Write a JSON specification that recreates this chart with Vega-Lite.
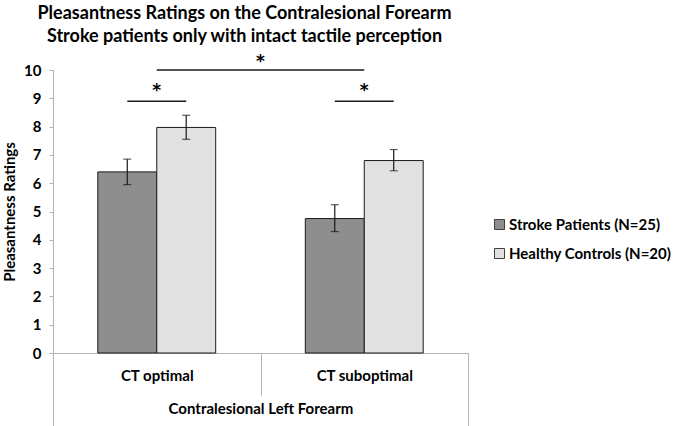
{
  "$schema": "https://vega.github.io/schema/vega-lite/v6.json",
  "width": 415,
  "height": 283,
  "autosize": {"type": "none"},
  "padding": {"left": 53, "top": 70, "right": 208, "bottom": 73},
  "background": "white",
  "config": {
    "view": {"stroke": null},
    "font": "Lato",
    "axis": {
      "labelFont": "Lato", "labelFontSize": 15, "labelFontWeight": "bold", "labelColor": "#000", "labelLimit": 0,
      "titleFont": "Lato", "titleFontSize": 15, "titleFontWeight": "bold", "titleColor": "#000",
      "domainColor": "#b3b3b3", "tickColor": "#b3b3b3", "grid": false
    },
    "axisY": {"values": [0, 1, 2, 3, 4, 5, 6, 7, 8, 9, 10], "tickSize": 4, "labelPadding": 8, "titlePadding": 6, "labelOverlap": false}
  },
  "title": {
    "text": ["Pleasantness Ratings on the Contralesional Forearm", "Stroke patients only with intact tactile perception"],
    "font": "Lato", "fontSize": 18, "fontWeight": "bold", "color": "#000",
    "anchor": "middle", "frame": "group", "dx": -16, "offset": 7, "lineHeight": 23
  },
  "datasets": {
    "bars": [
      {"condition": "CT optimal", "group": "Stroke Patients (N=25)", "mean": 6.4, "lo": 5.95, "hi": 6.85},
      {"condition": "CT optimal", "group": "Healthy Controls (N=20)", "mean": 7.97, "lo": 7.55, "hi": 8.4},
      {"condition": "CT suboptimal", "group": "Stroke Patients (N=25)", "mean": 4.75, "lo": 4.29, "hi": 5.24},
      {"condition": "CT suboptimal", "group": "Healthy Controls (N=20)", "mean": 6.8, "lo": 6.44, "hi": 7.19}
    ],
    "brackets": [
      {"id": "a", "condition": "CT optimal", "group": "Stroke Patients (N=25)", "y": 8.9},
      {"id": "a", "condition": "CT optimal", "group": "Healthy Controls (N=20)", "y": 8.9},
      {"id": "b", "condition": "CT suboptimal", "group": "Stroke Patients (N=25)", "y": 8.9},
      {"id": "b", "condition": "CT suboptimal", "group": "Healthy Controls (N=20)", "y": 8.9}
    ],
    "topline": [
      {"condition": "CT optimal", "y": 10},
      {"condition": "CT suboptimal", "y": 10}
    ],
    "stars": [
      {"condition": "CT optimal", "y": 9.25, "label": "*"},
      {"condition": "CT suboptimal", "y": 9.25, "label": "*"}
    ],
    "topstar": [
      {"region": "Contralesional Left Forearm", "y": 10.3, "label": "*"}
    ]
  },
  "layer": [
    {
      "encoding": {
        "x": {
          "field": "condition", "type": "nominal", "sort": ["CT optimal", "CT suboptimal"],
          "scale": {"paddingInner": 0, "paddingOuter": 0},
          "axis": {"title": null, "labelAngle": 0, "tickBand": "extent", "tickSize": 42, "labelPadding": -20, "labelBaseline": "middle"}
        }
      },
      "layer": [
        {
          "data": {"name": "bars"},
          "mark": {"type": "bar", "stroke": "#1a1a1a", "strokeWidth": 1},
          "encoding": {
            "xOffset": {"field": "group", "type": "nominal", "scale": {"domain": ["Stroke Patients (N=25)", "Healthy Controls (N=20)"], "paddingInner": 0, "paddingOuter": 0.76}},
            "y": {
              "field": "mean", "type": "quantitative", "title": "Pleasantness Ratings",
              "scale": {"domain": [0, 10], "nice": false}
            },
            "color": {
              "field": "group", "type": "nominal",
              "scale": {"domain": ["Stroke Patients (N=25)", "Healthy Controls (N=20)"], "range": ["#8e8e8e", "#e1e1e1"]},
              "legend": {
                "title": null, "orient": "none", "legendX": 439, "legendY": 147,
                "symbolType": "square", "symbolSize": 100, "symbolStrokeColor": "#404040", "symbolStrokeWidth": 1,
                "labelFont": "Lato", "labelFontSize": 15, "labelFontWeight": "bold", "labelColor": "#000", "labelLimit": 0,
                "rowPadding": 13, "labelOffset": 2
              }
            }
          }
        },
        {
          "data": {"name": "bars"},
          "mark": {"type": "rule", "color": "#1a1a1a", "strokeWidth": 1.2},
          "encoding": {
            "xOffset": {"field": "group", "type": "nominal", "scale": {"domain": ["Stroke Patients (N=25)", "Healthy Controls (N=20)"], "paddingInner": 0, "paddingOuter": 0.76}},
            "y": {"field": "lo", "type": "quantitative", "title": "Pleasantness Ratings"},
            "y2": {"field": "hi"}
          }
        },
        {
          "data": {"name": "bars"},
          "mark": {"type": "tick", "color": "#1a1a1a", "size": 8, "thickness": 1.2, "orient": "horizontal"},
          "encoding": {
            "xOffset": {"field": "group", "type": "nominal", "scale": {"domain": ["Stroke Patients (N=25)", "Healthy Controls (N=20)"], "paddingInner": 0, "paddingOuter": 0.76}},
            "y": {"field": "lo", "type": "quantitative", "title": "Pleasantness Ratings"}
          }
        },
        {
          "data": {"name": "bars"},
          "mark": {"type": "tick", "color": "#1a1a1a", "size": 8, "thickness": 1.2, "orient": "horizontal"},
          "encoding": {
            "xOffset": {"field": "group", "type": "nominal", "scale": {"domain": ["Stroke Patients (N=25)", "Healthy Controls (N=20)"], "paddingInner": 0, "paddingOuter": 0.76}},
            "y": {"field": "hi", "type": "quantitative", "title": "Pleasantness Ratings"}
          }
        },
        {
          "data": {"name": "brackets"},
          "mark": {"type": "line", "color": "#1a1a1a", "strokeWidth": 1.5},
          "encoding": {
            "xOffset": {"field": "group", "type": "nominal", "scale": {"domain": ["Stroke Patients (N=25)", "Healthy Controls (N=20)"], "paddingInner": 0, "paddingOuter": 0.76}},
            "y": {"field": "y", "type": "quantitative", "title": "Pleasantness Ratings"},
            "detail": {"field": "id"}
          }
        },
        {
          "data": {"name": "topline"},
          "mark": {"type": "line", "color": "#1a1a1a", "strokeWidth": 1.5},
          "encoding": {
            "y": {"field": "y", "type": "quantitative", "title": "Pleasantness Ratings"}
          }
        },
        {
          "data": {"name": "stars"},
          "mark": {"type": "text", "font": "DejaVu Sans", "fontSize": 17, "fontWeight": "bold", "color": "#000", "baseline": "middle"},
          "encoding": {
            "y": {"field": "y", "type": "quantitative", "title": "Pleasantness Ratings"},
            "text": {"field": "label"}
          }
        }
      ]
    },
    {
      "data": {"name": "topstar"},
      "mark": {"type": "text", "font": "DejaVu Sans", "fontSize": 17, "fontWeight": "bold", "color": "#000", "baseline": "middle"},
      "encoding": {
        "x": {
          "field": "region", "type": "nominal",
          "scale": {"paddingInner": 0, "paddingOuter": 0},
          "axis": {"orient": "bottom", "title": null, "domain": false, "labelAngle": 0, "tickBand": "extent", "tickSize": 75, "labelPadding": -20, "labelBaseline": "middle"}
        },
        "y": {"field": "y", "type": "quantitative", "title": "Pleasantness Ratings"},
        "text": {"field": "label"}
      }
    }
  ],
  "resolve": {"scale": {"x": "independent"}, "axis": {"x": "independent"}}
}
